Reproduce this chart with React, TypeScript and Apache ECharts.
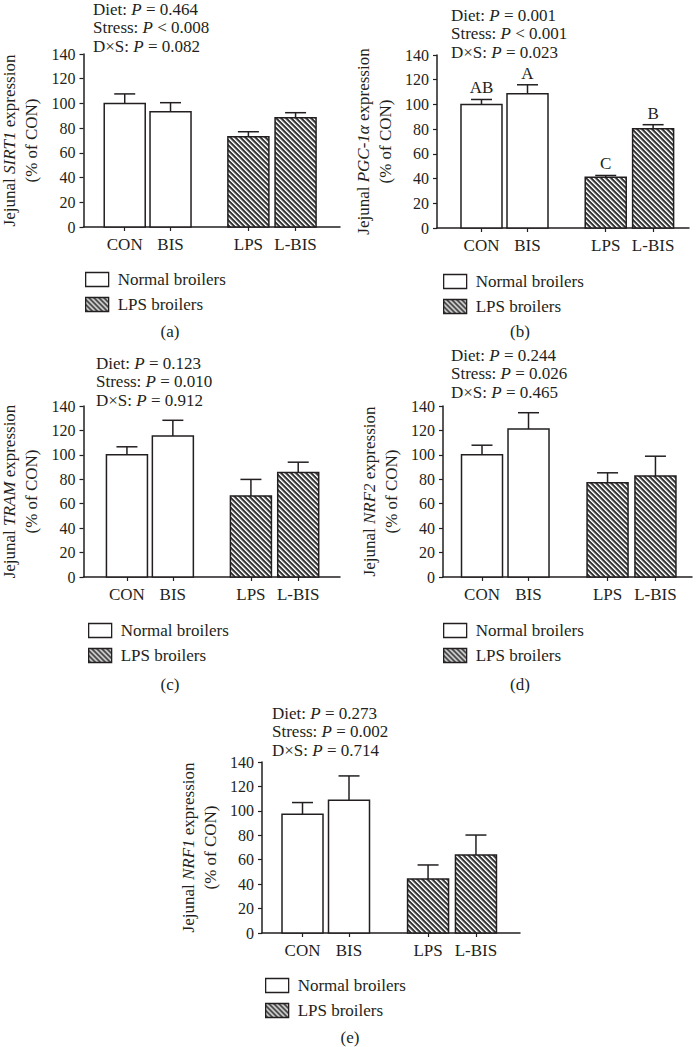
import React, { useEffect, useRef } from 'react';
import * as echarts from 'echarts';

// ---------- data ----------
const categories = ['CON', 'BIS', 'LPS', 'L-BIS'];
const legendNames = ['Normal broilers', 'LPS broilers'];
const groupOfCategory = [0, 0, 1, 1];

const sirt1Mean = [100, 93.2, 73.1, 88.4];
const sirt1Sem = [7.7, 7.4, 4.0, 4.1];
const sirt1P = ['= 0.464', '< 0.008', '= 0.082'];

const pgcMean = [100, 108.6, 41.0, 80.4];
const pgcSem = [4.0, 7.3, 1.5, 3.2];
const pgcLetters = ['AB', 'A', 'C', 'B'];
const pgcP = ['= 0.001', '< 0.001', '= 0.023'];

const tramMean = [100, 115.5, 66.3, 85.6];
const tramSem = [6.6, 12.8, 13.6, 8.4];
const tramP = ['= 0.123', '= 0.010', '= 0.912'];

const nrf2Mean = [100, 121.2, 77.2, 82.6];
const nrf2Sem = [7.9, 13.3, 8.1, 16.3];
const nrf2P = ['= 0.244', '= 0.026', '= 0.465'];

const nrf1Mean = [97.3, 108.7, 44.3, 63.9];
const nrf1Sem = [9.5, 19.9, 11.4, 16.3];
const nrf1P = ['= 0.273', '= 0.002', '= 0.714'];

const pLabels = ['Diet: ', 'Stress: ', 'D×S: '];
const yMin = 0;
const yMax = 140;
const yInterval = 20;

// ---------- layout ----------
const FONT = '"Liberation Serif", "Times New Roman", serif';
const INK = '#231f20';
const FS = 17;
const TICK_FS = 16;
const slotPos = [1, 2, 3.7, 4.73];

const panels = [
  { tag: '(a)', gene: 'SIRT1', mean: sirt1Mean, sem: sirt1Sem, p: sirt1P, letters: null as string[] | null,
    grid: { left: 82, top: 54, width: 258, height: 173 }, xMin: 0.1, xMax: 5.7,
    pText: [93, 9], legend: [85, 271], tagPos: [170, 331] },
  { tag: '(b)', gene: 'PGC-1α', mean: pgcMean, sem: pgcSem, p: pgcP, letters: pgcLetters,
    grid: { left: 437, top: 55, width: 252, height: 173 }, xMin: 0.033, xMax: 5.51,
    pText: [451, 15], legend: [443, 273], tagPos: [520, 331] },
  { tag: '(c)', gene: 'TRAM', mean: tramMean, sem: tramSem, p: tramP, letters: null,
    grid: { left: 83, top: 406, width: 257, height: 171 }, xMin: 0.054, xMax: 5.64,
    pText: [96, 363], legend: [88, 622], tagPos: [170, 684] },
  { tag: '(d)', gene: 'NRF2', mean: nrf2Mean, sem: nrf2Sem, p: nrf2P, letters: null,
    grid: { left: 443, top: 406, width: 249, height: 171 }, xMin: 0.161, xMax: 5.516,
    pText: [451, 355], legend: [443, 622], tagPos: [520, 684] },
  { tag: '(e)', gene: 'NRF1', mean: nrf1Mean, sem: nrf1Sem, p: nrf1P, letters: null,
    grid: { left: 262, top: 762, width: 258, height: 171 }, xMin: 0.129, xMax: 5.677,
    pText: [272, 713], legend: [265, 977], tagPos: [350, 1037] },
];

function makeHatch(): string {
  const s = 5;
  const c = document.createElement('canvas');
  c.width = s;
  c.height = s;
  const ctx = c.getContext('2d')!;
  const img = ctx.createImageData(s, s);
  const shades = [255, 200, 105, 45, 85];
  for (let y = 0; y < s; y++) {
    for (let x = 0; x < s; x++) {
      const k = (((x - y) % s) + s) % s;
      const v = shades[k];
      const o = (y * s + x) * 4;
      img.data[o] = v;
      img.data[o + 1] = v;
      img.data[o + 2] = v;
      img.data[o + 3] = 255;
    }
  }
  ctx.putImageData(img, 0, 0);
  return c.toDataURL();
}

function buildOption() {
  const hatchUrl = makeHatch();
  const hatch: any = { image: hatchUrl, repeat: 'repeat', imageWidth: 5, imageHeight: 5 };
  const fills: any[] = ['#ffffff', hatch];

  const grid: any[] = [];
  const xAxis: any[] = [];
  const yAxis: any[] = [];
  const series: any[] = [];
  const legend: any[] = [];
  const graphic: any[] = [];

  const catForValue = (v: number) => {
    let best = 0;
    for (let i = 0; i < slotPos.length; i++) {
      if (Math.abs(slotPos[i] - v) < Math.abs(slotPos[best] - v)) best = i;
    }
    return categories[best];
  };

  panels.forEach((pn, pi) => {
    grid.push({ ...pn.grid, containLabel: false });
    xAxis.push({
      gridIndex: pi,
      type: 'value',
      min: pn.xMin,
      max: pn.xMax,
      splitLine: { show: false },
      axisLine: { show: true, onZero: false, lineStyle: { color: INK, width: 1.5 } },
      axisTick: { show: true, customValues: slotPos, length: 4, lineStyle: { color: INK, width: 1.2 } },
      axisLabel: {
        customValues: slotPos,
        formatter: (v: number) => catForValue(v),
        fontFamily: FONT,
        fontSize: FS,
        color: INK,
        margin: 9,
      },
    });
    yAxis.push({
      gridIndex: pi,
      type: 'value',
      min: yMin,
      max: yMax,
      interval: yInterval,
      splitLine: { show: false },
      axisLine: { show: true, lineStyle: { color: INK, width: 1.5 } },
      axisTick: { show: true, length: 4, lineStyle: { color: INK, width: 1.2 } },
      axisLabel: { fontFamily: FONT, fontSize: TICK_FS, color: INK, margin: 8 },
      name: `{n|Jejunal }{i|${pn.gene}}{n| expression}\n{n|(% of CON)}`,
      nameLocation: 'middle',
      nameRotate: 90,
      nameGap: 41,
      nameTextStyle: {
        rich: {
          n: { fontFamily: FONT, fontSize: FS, color: INK, lineHeight: 22 },
          i: { fontFamily: FONT, fontSize: FS, color: INK, fontStyle: 'italic', lineHeight: 22 },
        },
      },
    });

    [0, 1].forEach((g) => {
      const idxs = categories.map((_, i) => i).filter((i) => groupOfCategory[i] === g);
      const data = idxs.map((i) => [slotPos[i], pn.mean[i], pn.mean[i] + pn.sem[i], i]);
      series.push({
        type: 'custom',
        name: legendNames[g],
        xAxisIndex: pi,
        yAxisIndex: pi,
        encode: { x: 0, y: 1 },
        data,
        z: 3,
        renderItem: (params: any, api: any) => {
          const x = api.value(0);
          const m = api.value(1);
          const top = api.value(2);
          const ci = api.value(3);
          const base = api.coord([x, 0]);
          const pt = api.coord([x, m]);
          const et = api.coord([x, top]);
          const bw = 41;
          const children: any[] = [
            {
              type: 'rect',
              shape: { x: base[0] - bw / 2, y: pt[1], width: bw, height: base[1] - pt[1] },
              style: { fill: fills[g], stroke: INK, lineWidth: 1.5 },
            },
            {
              type: 'line',
              shape: { x1: et[0], y1: pt[1], x2: et[0], y2: et[1] },
              style: { stroke: INK, lineWidth: 1.5 },
            },
            {
              type: 'line',
              shape: { x1: et[0] - 10.5, y1: et[1], x2: et[0] + 10.5, y2: et[1] },
              style: { stroke: INK, lineWidth: 1.5 },
            },
          ];
          if (pn.letters) {
            children.push({
              type: 'text',
              style: {
                text: pn.letters[ci],
                x: et[0],
                y: et[1] - 3,
                align: 'center',
                verticalAlign: 'bottom',
                fontFamily: FONT,
                fontSize: FS,
                fill: INK,
              },
            });
          }
          return { type: 'group', children };
        },
      });
    });

    legend.push({
      orient: 'vertical',
      left: pn.legend[0],
      top: pn.legend[1],
      padding: 0,
      itemWidth: 23,
      itemHeight: 14,
      itemGap: 8,
      icon: 'rect',
      selectedMode: false,
      textStyle: { fontFamily: FONT, fontSize: FS, color: INK, padding: [0, 0, 0, 4] },
      data: [
        { name: legendNames[0], itemStyle: { color: '#ffffff', borderColor: INK, borderWidth: 1.3 } },
        { name: legendNames[1], itemStyle: { color: hatch, borderColor: INK, borderWidth: 1.3 } },
      ],
    });

    const pText = pn.p
      .map((v, k) => `{n|${pLabels[k]}}{i|P}{n| ${v}}`)
      .join('\n');
    graphic.push({
      type: 'text',
      x: pn.pText[0],
      y: pn.pText[1] - 9.25,
      style: {
        text: pText,
        align: 'left',
        verticalAlign: 'top',
        fill: INK,
        rich: {
          n: { fontFamily: FONT, fontSize: FS, fill: INK, lineHeight: 18.5 },
          i: { fontFamily: FONT, fontSize: FS, fill: INK, fontStyle: 'italic', lineHeight: 18.5 },
        },
      },
    });
    graphic.push({
      type: 'text',
      x: pn.tagPos[0],
      y: pn.tagPos[1],
      style: {
        text: pn.tag,
        align: 'center',
        verticalAlign: 'middle',
        fontFamily: FONT,
        fontSize: FS,
        fill: INK,
      },
    });
  });

  return {
    animation: false,
    backgroundColor: '#ffffff',
    grid,
    xAxis,
    yAxis,
    series,
    legend,
    graphic,
  };
}

export default function App() {
  const ref = useRef<HTMLDivElement>(null);
  useEffect(() => {
    if (!ref.current) return;
    const chart = echarts.init(ref.current, undefined, { renderer: 'svg' });
    chart.setOption(buildOption() as any);
    return () => chart.dispose();
  }, []);
  return (
    <div
      ref={ref}
      style={{ position: 'absolute', left: 0, top: 0, width: 698, height: 1047, background: '#fff' }}
    />
  );
}
